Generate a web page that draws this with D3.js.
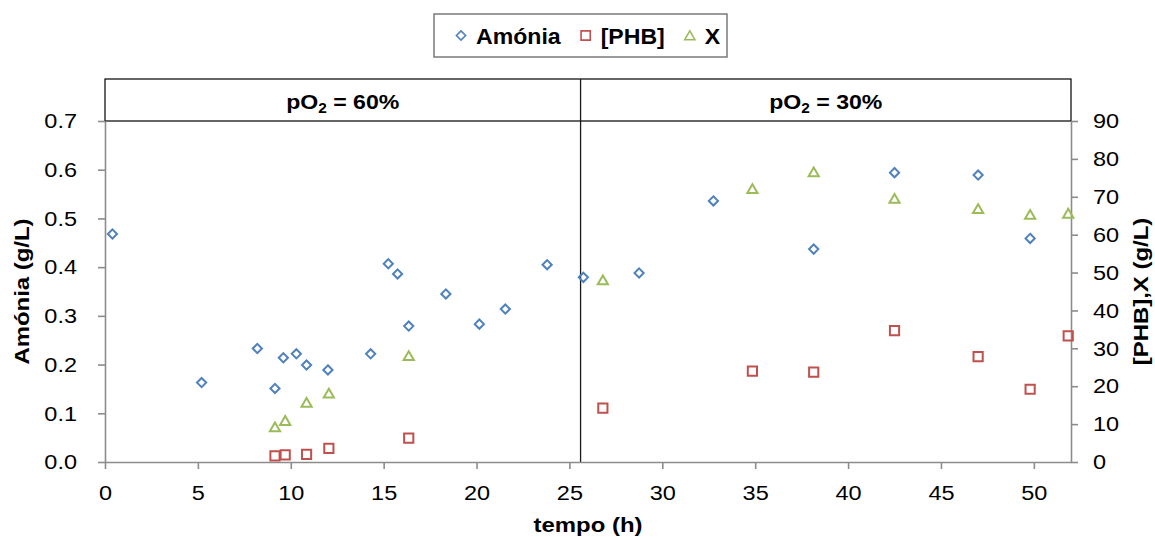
<!DOCTYPE html>
<html>
<head>
<meta charset="utf-8">
<script src="https://cdn.jsdelivr.net/npm/d3@7"></script>
<style>
  html, body { margin: 0; padding: 0; background: #fff; }
  svg { display: block; font-family: "Liberation Sans", Arial, sans-serif; }
  .sx { transform-box: fill-box; }
</style>
</head>
<body>
<svg id="chart" width="1155" height="537"></svg>
<script>
// ---------- data ----------
const seriesNames = ["Amónia", "[PHB]", "X"];
const ammoniaTime  = [0.4, 5.2, 8.2, 9.15, 9.6, 10.3, 10.85, 12.0, 14.3, 15.25, 15.75, 16.35, 18.35, 20.15, 21.55, 23.8, 25.75, 28.75, 32.75, 38.15, 42.5, 47.0, 49.8];
const ammoniaValues = [0.468, 0.163, 0.233, 0.151, 0.214, 0.222, 0.199, 0.189, 0.222, 0.407, 0.386, 0.279, 0.345, 0.283, 0.314, 0.405, 0.379, 0.388, 0.536, 0.437, 0.594, 0.589, 0.459];
const bioTime     = [9.15, 9.7, 10.85, 12.05, 16.35, 26.8, 34.85, 38.15, 42.5, 47.0, 49.8, 51.85];
const phbValues   = [1.6, 1.9, 2.0, 3.6, 6.3, 14.2, 24.0, 23.7, 34.7, 27.8, 19.2, 33.3];
const xValues     = [9.2, 10.9, 15.7, 18.1, 28.0, 48.0, 72.1, 76.5, 69.5, 66.8, 65.3, 65.6];
const xTicks      = [0, 5, 10, 15, 20, 25, 30, 35, 40, 45, 50];
const leftTicks   = [0, 0.1, 0.2, 0.3, 0.4, 0.5, 0.6, 0.7];
const rightTicks  = [0, 10, 20, 30, 40, 50, 60, 70, 80, 90];
const phaseBoundary = 25.6;
const phaseLabels = ["60%", "30%"];

// ---------- layout ----------
const W = 1155, H = 537;
const L = 105, R = 1071, T = 121, B = 462, panelTop = 79;
const colors = { amm: "#4F81BD", phb: "#C0504D", x: "#9BBB59" };
const axisColor = "#8C8C8C";

const svg = d3.select("#chart");
const x = d3.scaleLinear().domain([0, 52]).range([L, R]);
const yL = d3.scaleLinear().domain([0, 0.7]).range([B, T]);
const yR = d3.scaleLinear().domain([0, 90]).range([B, T]);

function stretch(sel, k, origin) {
  sel.classed("sx", true)
     .style("transform-origin", origin)
     .style("transform", `scaleX(${k})`);
}

// top panel
svg.append("rect").attr("x", L).attr("y", panelTop).attr("width", R - L).attr("height", T - panelTop)
  .attr("fill", "#fff").attr("stroke", "#000").attr("stroke-width", 1.2);
svg.append("line").attr("x1", x(phaseBoundary)).attr("x2", x(phaseBoundary))
  .attr("y1", panelTop).attr("y2", B).attr("stroke", "#1a1a1a").attr("stroke-width", 1.3);

const phaseCenters = [(L + x(phaseBoundary)) / 2, (x(phaseBoundary) + R) / 2];
phaseLabels.forEach((lab, i) => {
  const t = svg.append("text").attr("x", phaseCenters[i]).attr("y", 109)
    .attr("text-anchor", "middle").attr("font-weight", "bold").attr("font-size", 21).attr("fill", "#000");
  t.append("tspan").text("pO");
  t.append("tspan").text("2").attr("font-size", 14).attr("dy", 4);
  t.append("tspan").text(" = " + lab).attr("dy", -4);
  stretch(t, 1.1, "center");
});

// axes
function styleAxis(g) {
  g.selectAll("path, line").attr("stroke", axisColor).attr("stroke-width", 1.6);
  g.selectAll("text").attr("fill", "#000").attr("font-size", 21)
    .attr("font-family", "'Liberation Sans', Arial, sans-serif");
}
const gx = svg.append("g").attr("transform", `translate(0,${B})`)
  .call(d3.axisBottom(x).tickValues(xTicks).tickFormat(d3.format("d")).tickSizeInner(7).tickSizeOuter(0).tickPadding(16));
styleAxis(gx);
gx.selectAll("text").each(function () { stretch(d3.select(this), 1.12, "center"); });

const gl = svg.append("g").attr("transform", `translate(${L},0)`)
  .call(d3.axisLeft(yL).tickValues(leftTicks).tickFormat(d3.format(".1f")).tickSizeInner(7).tickSizeOuter(0).tickPadding(21));
styleAxis(gl);
gl.selectAll("text").each(function () { stretch(d3.select(this), 1.12, "right center"); });

const gr = svg.append("g").attr("transform", `translate(${R},0)`)
  .call(d3.axisRight(yR).tickValues(rightTicks).tickFormat(d3.format("d")).tickSizeInner(7).tickSizeOuter(0).tickPadding(15));
styleAxis(gr);
gr.selectAll("text").each(function () { stretch(d3.select(this), 1.12, "left center"); });

// axis titles
const tx = svg.append("text").attr("x", (L + R) / 2).attr("y", 532).attr("text-anchor", "middle")
  .attr("font-weight", "bold").attr("font-size", 21).text("tempo (h)");
stretch(tx, 1.14, "center");
const gtl = svg.append("g").attr("transform", `translate(29,${(T + B) / 2}) rotate(-90)`);
const tl = gtl.append("text").attr("text-anchor", "middle").attr("font-weight", "bold").attr("font-size", 21).text("Amónia (g/L)");
stretch(tl, 1.14, "center");
const gtr = svg.append("g").attr("transform", `translate(1148,${(T + B) / 2}) rotate(-90)`);
const tr = gtr.append("text").attr("text-anchor", "middle").attr("font-weight", "bold").attr("font-size", 21).text("[PHB],X (g/L)");
stretch(tr, 1.14, "center");

// marker shapes
const shapes = {
  diamond: (cx, cy) => `M${cx},${cy - 4.6}L${cx + 4.6},${cy}L${cx},${cy + 4.6}L${cx - 4.6},${cy}Z`,
  square: (cx, cy) => `M${cx - 4.6},${cy - 4.6}h9.2v9.2h-9.2Z`,
  triangle: (cx, cy) => `M${cx},${cy - 4.6}L${cx + 5.1},${cy + 4.2}L${cx - 5.1},${cy + 4.2}Z`
};

function drawSeries(times, vals, yScale, shape, color) {
  svg.append("g").selectAll("path").data(times.map((t, i) => [t, vals[i]])).join("path")
    .attr("d", d => shapes[shape](x(d[0]), yScale(d[1])))
    .attr("fill", "none").attr("stroke", color).attr("stroke-width", 2);
}
drawSeries(bioTime, xValues, yR, "triangle", colors.x);
drawSeries(bioTime, phbValues, yR, "square", colors.phb);
drawSeries(ammoniaTime, ammoniaValues, yL, "diamond", colors.amm);

// legend
const legend = svg.append("g");
const legBox = legend.append("rect").attr("x", 434).attr("y", 14).attr("width", 293).attr("height", 43)
  .attr("fill", "#fff").attr("stroke", "#7a7a7a").attr("stroke-width", 1.5);
const legItems = [
  { name: seriesNames[0], shape: "diamond", color: colors.amm },
  { name: seriesNames[1], shape: "square", color: colors.phb },
  { name: seriesNames[2], shape: "triangle", color: colors.x }
];
let lx = 461;
legItems.forEach(it => {
  legend.append("path").attr("d", shapes[it.shape](lx, 35.5)).attr("fill", "none")
    .attr("stroke", it.color).attr("stroke-width", 1.6);
  const t = legend.append("text").attr("x", lx + 15).attr("y", 44).attr("font-weight", "bold")
    .attr("font-size", 22).text(it.name);
  stretch(t, 1.05, "left center");
  const w = t.node().getComputedTextLength() * 1.05;
  lx = lx + 15 + w + 25;
});
</script>
</body>
</html>
